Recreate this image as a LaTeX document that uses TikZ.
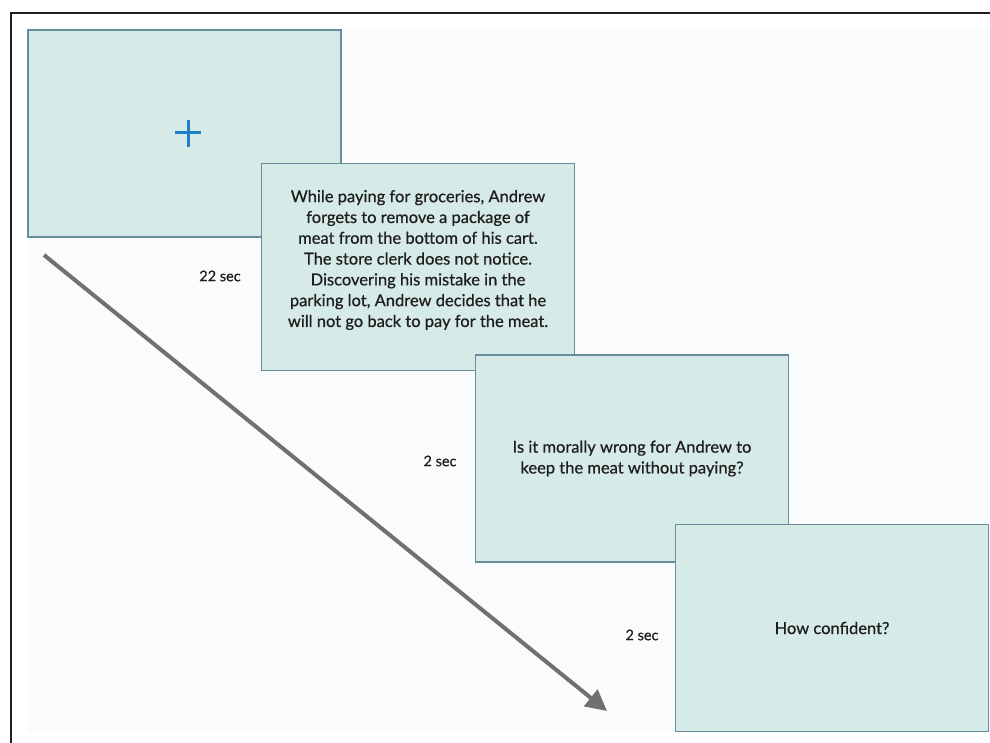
\documentclass[tikz,border=0pt]{standalone}
\usepackage{fontspec}
\setmainfont{Lato}[FakeBold=0.6]
\usetikzlibrary{arrows.meta}
\definecolor{boxfill}{RGB}{214,234,231}
\definecolor{boxline}{RGB}{104,142,156}
\definecolor{txt}{RGB}{30,30,30}
\definecolor{crossblue}{RGB}{30,128,200}
\definecolor{arrowgray}{RGB}{112,112,112}
\definecolor{pagebg}{RGB}{250,251,253}
\begin{document}
\begin{tikzpicture}[x=1pt,y=-1pt,
  screen/.style={draw=boxline, line width=1.8pt, fill=boxfill, minimum width=313pt, minimum height=207pt, inner sep=0pt, text=txt, align=center, font=\fontsize{16.5}{20.8}\selectfont},
  timelabel/.style={text=txt, inner sep=0pt, font=\fontsize{14.5}{16}\selectfont}]
\useasboundingbox (0,0) rectangle (990,743);
\clip (0,0) rectangle (990,743);
\fill[white] (0,0) rectangle (990,743);
\fill[pagebg] (27,29) rectangle (990,733);
\draw[line width=2.6pt, black!88] (11,750) -- (11,13) -- (1000,13);
% screens
\node[screen] (s1) at (184.5,133.5) {};
\draw[crossblue, line width=3pt] (175,133) -- (201,133) (188,120) -- (188,147);
\node[screen] (s2) at (418,267) {};
\node[text=txt, align=center, inner sep=0pt, font=\fontsize{16.5}{20.8}\selectfont] (t2) at (418,260) {While paying for groceries, Andrew\\forgets to remove a package of\\meat from the bottom of his cart.\\The store clerk does not notice.\\Discovering his mistake in the\\parking lot, Andrew decides that he\\will not go back to pay for the meat.};
\node[screen] (s3) at (632,458.5) {Is it morally wrong for Andrew to\\keep the meat without paying?};
\node[screen] (s4) at (832,628) {How confident?};
% time labels
\node[timelabel] (l1) at (220,276) {22 sec};
\node[timelabel] (l2) at (440,461) {2 sec};
\node[timelabel] (l3) at (642,635) {2 sec};
% time arrow
\coordinate (as) at (44,255);
\coordinate (ae) at (607,711);
\draw[arrowgray, line width=4pt, -{Triangle[length=21pt,width=21pt]}] (as) -- (ae);
\end{tikzpicture}
\end{document}
